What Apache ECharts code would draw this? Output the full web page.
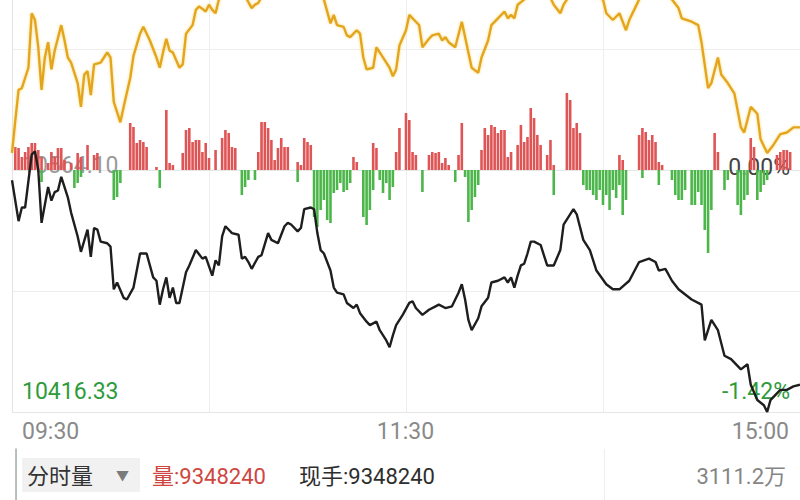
<!DOCTYPE html>
<html><head><meta charset="utf-8">
<script src="https://cdn.jsdelivr.net/npm/echarts@6/dist/echarts.min.js"></script>
<style>html,body{margin:0;padding:0;background:#fff}#c{width:800px;height:500px}</style>
</head><body><div id="c"></div>
<script>
// ---- data (minute index from 09:30, value) ----
const timeTickMinutes = [0, 120, 240];
const timeTickLabels = ['09:30', '11:30', '15:00'];
const pctTicks = [-1.42, 0];
const leftTickLabels = ['10416.33', '10564.10'];
const rightTickLabels = ['-1.42%', '0.00%'];

const blackLine = [[0,-0.06],[2,-0.30],[3,-0.22],[4,-0.22],[6,0.09],[7,0.11],[8,0.00],[9,-0.31],[11,-0.10],[12,-0.18],[13,-0.13],[14,-0.12],[15,-0.04],[17,-0.16],[18,-0.25],[20,-0.39],[21,-0.48],[23,-0.35],[24,-0.51],[25,-0.34],[26,-0.35],[27,-0.42],[29,-0.43],[30,-0.45],[31,-0.70],[32,-0.66],[34,-0.75],[35,-0.76],[37,-0.69],[39,-0.49],[41,-0.49],[43,-0.63],[44,-0.65],[45,-0.79],[46,-0.70],[47,-0.63],[48,-0.75],[49,-0.69],[50,-0.78],[51,-0.78],[53,-0.60],[54,-0.56],[56,-0.47],[58,-0.52],[59,-0.51],[61,-0.62],[62,-0.53],[63,-0.56],[64,-0.39],[65,-0.33],[67,-0.37],[69,-0.38],[70,-0.52],[71,-0.51],[72,-0.54],[73,-0.58],[75,-0.51],[76,-0.50],[78,-0.37],[79,-0.41],[81,-0.43],[83,-0.33],[84,-0.31],[85,-0.32],[87,-0.36],[88,-0.34],[89,-0.23],[91,-0.22],[92,-0.23],[93,-0.37],[94,-0.47],[95,-0.49],[97,-0.59],[98,-0.69],[99,-0.72],[101,-0.73],[102,-0.78],[104,-0.81],[105,-0.79],[106,-0.84],[108,-0.89],[109,-0.91],[111,-0.89],[112,-0.94],[114,-1.00],[115,-1.04],[116,-0.97],[117,-0.91],[119,-0.85],[121,-0.78],[122,-0.77],[123,-0.81],[125,-0.85],[127,-0.82],[129,-0.80],[130,-0.79],[132,-0.81],[134,-0.80],[136,-0.72],[137,-0.67],[138,-0.76],[139,-0.88],[140,-0.94],[142,-0.87],[143,-0.80],[145,-0.75],[146,-0.66],[148,-0.65],[150,-0.63],[151,-0.66],[152,-0.63],[153,-0.69],[154,-0.62],[155,-0.56],[156,-0.55],[157,-0.49],[158,-0.42],[159,-0.42],[161,-0.44],[163,-0.56],[165,-0.56],[167,-0.47],[168,-0.32],[171,-0.23],[172,-0.26],[174,-0.41],[176,-0.47],[178,-0.59],[181,-0.67],[183,-0.70],[185,-0.70],[188,-0.65],[191,-0.54],[194,-0.52],[196,-0.54],[197,-0.59],[199,-0.58],[201,-0.65],[203,-0.70],[207,-0.76],[210,-0.79],[211,-1.00],[213,-0.88],[215,-0.94],[217,-1.09],[219,-1.11],[222,-1.17],[224,-1.14],[225,-1.26],[227,-1.35],[229,-1.38],[230,-1.42],[231,-1.35],[234,-1.29],[236,-1.29],[238,-1.27],[240,-1.26]];

const goldLine = [[0,0.10],[1,0.29],[2,0.47],[3,0.48],[5,0.60],[6,0.92],[7,0.88],[8,0.72],[9,0.47],[10,0.66],[11,0.75],[12,0.59],[13,0.70],[15,0.85],[16,0.76],[17,0.66],[18,0.63],[20,0.51],[21,0.37],[22,0.56],[23,0.58],[24,0.44],[25,0.62],[27,0.63],[28,0.66],[29,0.69],[30,0.66],[31,0.40],[33,0.28],[34,0.37],[36,0.54],[37,0.67],[39,0.80],[40,0.84],[42,0.76],[44,0.66],[45,0.60],[46,0.69],[47,0.77],[48,0.70],[49,0.69],[51,0.60],[52,0.62],[53,0.80],[55,0.85],[56,0.94],[57,0.96],[59,0.93],[60,0.97],[61,0.94],[62,0.92],[63,1.00],[65,1.06],[67,1.10],[69,1.08],[71,1.02],[73,0.95],[74,0.97],[75,0.98],[77,1.05],[80,1.12],[83,1.15],[86,1.12],[89,1.18],[92,1.10],[95,1.00],[97,0.86],[98,0.91],[99,0.85],[101,0.84],[102,0.79],[103,0.78],[105,0.82],[106,0.80],[107,0.66],[108,0.59],[110,0.60],[111,0.72],[112,0.69],[114,0.63],[115,0.60],[116,0.55],[117,0.59],[118,0.73],[120,0.82],[121,0.91],[123,0.87],[124,0.85],[125,0.72],[127,0.77],[128,0.79],[130,0.80],[131,0.76],[132,0.78],[133,0.75],[135,0.72],[137,0.87],[139,0.69],[140,0.60],[142,0.57],[143,0.66],[145,0.76],[146,0.85],[148,0.89],[150,0.93],[151,0.89],[152,0.91],[153,0.89],[154,0.97],[156,1.00],[158,1.06],[160,1.10],[163,1.05],[165,0.97],[167,0.92],[168,0.97],[169,1.00],[171,1.06],[173,1.12],[176,1.08],[178,1.02],[180,1.00],[181,0.92],[183,0.88],[185,0.92],[187,0.82],[188,0.88],[190,0.96],[191,1.00],[193,1.06],[196,1.12],[199,1.05],[201,1.00],[203,0.95],[204,0.89],[207,0.87],[209,0.85],[210,0.75],[212,0.48],[213,0.51],[215,0.66],[216,0.56],[218,0.51],[220,0.45],[222,0.25],[223,0.22],[225,0.37],[227,0.33],[228,0.18],[230,0.10],[232,0.15],[234,0.21],[236,0.22],[238,0.25],[240,0.25]];

const buyBars = [[1,23],[2,22],[3,13],[4,18],[5,23],[6,27],[7,27],[8,20],[9,13],[11,7],[12,18],[13,13],[14,22],[15,22],[16,10],[18,7],[20,17],[21,13],[23,25],[25,15],[26,17],[36,47],[37,43],[38,27],[39,30],[40,28],[41,23],[44,3],[47,60],[48,7],[49,5],[52,17],[53,40],[54,42],[55,28],[56,30],[57,30],[58,18],[59,27],[60,12],[62,20],[64,32],[65,40],[66,37],[67,23],[68,22],[75,18],[76,48],[77,48],[78,42],[79,30],[80,10],[81,22],[82,32],[83,23],[84,23],[87,8],[88,5],[89,32],[90,28],[91,25],[104,13],[105,8],[110,27],[111,22],[117,18],[118,42],[120,57],[121,50],[122,18],[123,15],[127,15],[128,18],[129,17],[130,18],[131,7],[132,12],[133,5],[136,15],[137,47],[143,20],[144,42],[145,35],[146,45],[147,43],[148,37],[149,40],[150,40],[151,13],[152,18],[154,25],[155,45],[156,28],[157,33],[158,62],[159,52],[160,35],[161,25],[163,15],[164,30],[165,5],[169,77],[170,70],[171,42],[172,47],[173,37],[185,15],[186,10],[191,35],[192,42],[193,38],[194,30],[195,35],[196,28],[197,8],[198,5],[214,37],[215,18],[225,32],[226,23],[233,15],[234,18],[235,20],[236,20],[237,18]];

const sellBars = [[9,-12],[19,-18],[20,-13],[21,-7],[31,-30],[32,-27],[33,-13],[45,-18],[70,-25],[71,-17],[72,-10],[74,-10],[87,-12],[92,-47],[93,-57],[94,-40],[95,-30],[96,-50],[97,-53],[98,-23],[99,-20],[100,-13],[101,-22],[102,-20],[103,-13],[107,-47],[108,-55],[109,-40],[110,-20],[112,-10],[113,-23],[114,-13],[115,-30],[116,-17],[125,-22],[135,-12],[138,-7],[139,-52],[140,-40],[141,-27],[142,-15],[165,-25],[174,-15],[175,-20],[176,-20],[177,-25],[178,-30],[179,-20],[180,-35],[181,-25],[182,-40],[183,-20],[184,-28],[185,-15],[186,-45],[187,-30],[192,-8],[197,-15],[201,-10],[202,-25],[203,-30],[204,-30],[205,-20],[207,-35],[208,-35],[209,-22],[210,-35],[211,-60],[212,-83],[213,-40],[217,-20],[218,-10],[221,-35],[222,-45],[223,-30],[224,-25],[227,-30],[228,-22],[229,-15],[230,-10]];

const panelName = '分时量';
const volumeLabel = '量:9348240';
const handLabel = '现手:9348240';
const amountLabel = '3111.2万';

const FONT = 'Roboto, "Noto Sans CJK SC", sans-serif';
const near = (a, b) => Math.abs(a - b) < 1e-6;

function tickLabel(v, labels, styles) {
  for (let k = 0; k < pctTicks.length; k++) {
    if (near(v, pctTicks[k])) return '{' + styles[k] + '|' + labels[k] + '}';
  }
  return '';
}

const chart = echarts.init(document.getElementById('c'), null, {renderer: 'svg'});
chart.setOption({
  animation: false,
  backgroundColor: '#fff',
  grid: [
    {left: 12, right: 0, top: 0, bottom: 88},
    {left: 16, right: 0, top: 449, bottom: 0}
  ],
  xAxis: [
    {
      type: 'value', gridIndex: 0, min: 0, max: 240, interval: 60,
      axisLine: {show: true, lineStyle: {color: '#e6e6e6', width: 1}},
      axisTick: {show: false},
      splitLine: {show: true, lineStyle: {color: '#eeeeee', width: 1}},
      axisLabel: {
        margin: 8, color: '#8a8a8a', fontSize: 23, fontFamily: FONT,
        padding: [0, 11, 0, 10],
        alignMinLabel: 'left', alignMaxLabel: 'right',
        formatter: v => { const k = timeTickMinutes.indexOf(v); return k >= 0 ? timeTickLabels[k] : ''; }
      }
    },
    {
      type: 'value', gridIndex: 1, min: 0, max: 240, interval: 180, position: 'top',
      axisLine: {show: true, lineStyle: {color: '#e8e8e8'}},
      axisTick: {show: false}, axisLabel: {show: false},
      splitLine: {show: true, lineStyle: {color: '#eeeeee'}}
    }
  ],
  yAxis: [
    {
      type: 'value', gridIndex: 0, min: -1.42, max: 0.9975, interval: 0.71, position: 'left',
      axisLine: {show: true, lineStyle: {color: '#e3e3e3'}},
      axisTick: {show: false},
      splitLine: {show: true, lineStyle: {color: ['#e6e6e6', '#eeeeee', '#c4c4c4', '#eeeeee', '#ffffff']}},
      axisLabel: {
        inside: true, margin: 10, fontFamily: FONT,
        formatter: v => tickLabel(v, leftTickLabels, ['g', 'n']),
        rich: {
          g: {color: '#2f9b3c', fontSize: 23, fontFamily: FONT, padding: [0, 0, 42, 0]},
          n: {color: '#9a9a9a', fontSize: 23, fontFamily: FONT, padding: [0, 0, 8, 0]}
        }
      }
    },
    {
      type: 'value', gridIndex: 0, min: -1.42, max: 0.9975, interval: 0.71, position: 'right',
      axisLine: {show: false}, axisTick: {show: false}, splitLine: {show: false},
      axisLabel: {
        inside: true, margin: 10, fontFamily: FONT,
        formatter: v => tickLabel(v, rightTickLabels, ['g', 'd']),
        rich: {
          g: {color: '#2f9b3c', fontSize: 23, fontFamily: FONT, padding: [0, 0, 42, 0]},
          d: {color: '#444444', fontSize: 23, fontFamily: FONT, padding: [0, 0, 4, 0]}
        }
      }
    },
    {
      type: 'value', gridIndex: 0, min: -242, max: 170, show: false, splitLine: {show: false}
    },
    {
      type: 'value', gridIndex: 1, min: 0, max: 1,
      axisLine: {show: true, lineStyle: {color: '#9fb09f', width: 1.5}},
      axisTick: {show: false}, axisLabel: {show: false}, splitLine: {show: false}
    }
  ],
  series: [
    {type: 'bar', xAxisIndex: 0, yAxisIndex: 2, data: buyBars, barWidth: 2.6, barGap: '-100%',
     itemStyle: {color: '#df5454'}, silent: true},
    {type: 'bar', xAxisIndex: 0, yAxisIndex: 2, data: sellBars, barWidth: 2.6, barGap: '-100%',
     itemStyle: {color: '#4db64a'}, silent: true},
    {type: 'line', xAxisIndex: 0, yAxisIndex: 0, data: goldLine, showSymbol: false, smooth: false, clip: true,
     lineStyle: {color: '#e3a51c', width: 2.4, shadowColor: 'rgba(250,215,110,0.9)', shadowBlur: 3}, silent: true},
    {type: 'line', xAxisIndex: 0, yAxisIndex: 0, data: blackLine, showSymbol: false, smooth: false, clip: true,
     lineStyle: {color: '#1e1e1e', width: 2.4}, silent: true}
  ],
  graphic: [
    {type: 'rect', shape: {x: 22, y: 458, width: 118, height: 34}, style: {fill: '#f1f1f1'}},
    {type: 'text', x: 27, y: 476, style: {text: panelName, font: '22px ' + FONT, fill: '#333', verticalAlign: 'middle', align: 'left'}},
    {type: 'text', x: 116, y: 475, style: {text: '▼', font: '13px ' + FONT, fill: '#7a7a7a', verticalAlign: 'middle', align: 'left'}},
    {type: 'text', x: 152, y: 476, style: {text: volumeLabel, font: '22px ' + FONT, fill: '#cf4640', verticalAlign: 'middle', align: 'left'}},
    {type: 'text', x: 299, y: 476, style: {text: handLabel, font: '22px ' + FONT, fill: '#2e2e2e', verticalAlign: 'middle', align: 'left'}},
    {type: 'text', x: 786, y: 476, style: {text: amountLabel, font: '22px ' + FONT, fill: '#858585', verticalAlign: 'middle', align: 'right'}}
  ]
});
</script></body></html>
